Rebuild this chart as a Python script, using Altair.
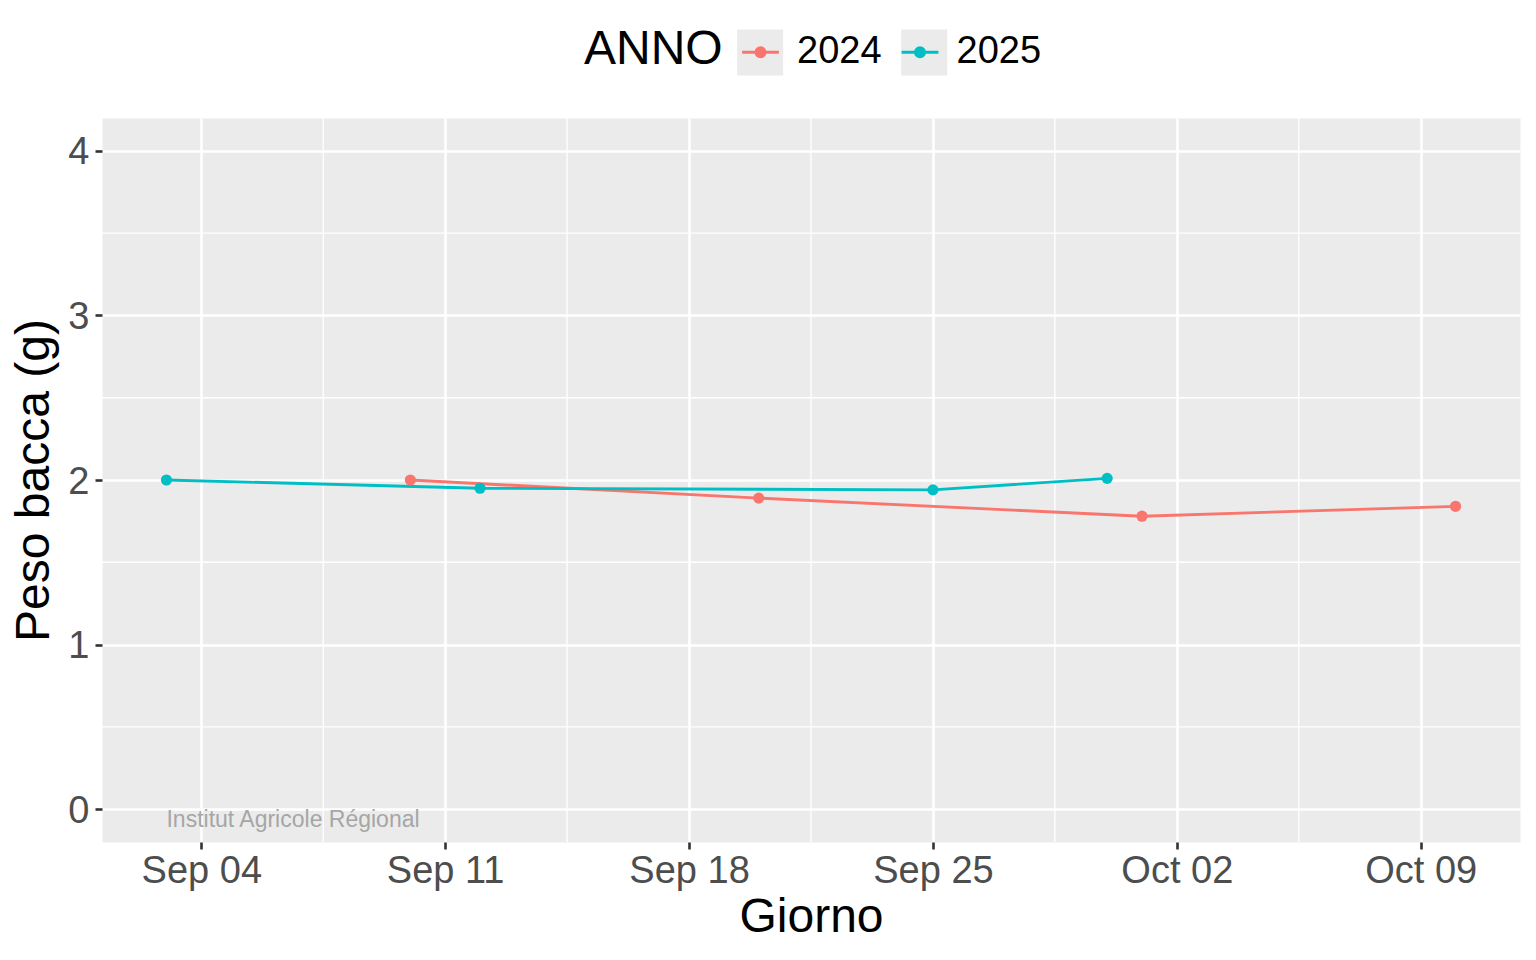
import altair as alt
import pandas as pd

# ---------------- data ----------------
anni = ["2024", "2025"]
colori = ["#F8766D", "#00BFC4"]
anno_riferimento = "2025"          # common calendar year used on the x axis

giorni_2024 = ["09-10", "09-20", "10-01", "10-10"]
peso_2024 = [2.00, 1.89, 1.78, 1.84]

giorni_2025 = ["09-03", "09-12", "09-25", "09-30"]
peso_2025 = [2.00, 1.95, 1.94, 2.01]

x_ticks = ["09-04", "09-11", "09-18", "09-25", "10-02", "10-09"]
x_minor = ["09-07T12:00", "09-14T12:00", "09-21T12:00", "09-28T12:00", "10-05T12:00"]
y_ticks = [0, 1, 2, 3, 4]
y_minor = [0.5, 1.5, 2.5, 3.5]
y_limiti = [0, 4]
watermark = "Institut Agricole Régional"

FONT = "Liberation Sans"
TITLE_SIZE = 48
LABEL_SIZE = 38


def iso(g):
    return f"{anno_riferimento}-{g}"


def ms(g):
    return int(pd.Timestamp(iso(g), tz="UTC").value // 10**6)


rows = []
for anno, giorni, pesi in [("2024", giorni_2024, peso_2024), ("2025", giorni_2025, peso_2025)]:
    for g, p in zip(giorni, pesi):
        rows.append({"date": iso(g), "peso": p, "ANNO": anno, "ANNO_bg": anno})
df = pd.DataFrame(rows)

df_mx = pd.DataFrame({"date": [iso(g) for g in x_minor]})
df_my = pd.DataFrame({"peso": y_minor})
df_wm = pd.DataFrame({"date": [iso(giorni_2025[0])], "peso": [y_limiti[0]], "testo": [watermark]})

# ggplot-style 5% expansion of the ranges
all_ms = [ms(g) for g in giorni_2024 + giorni_2025]
span = max(all_ms) - min(all_ms)
x_domain = [min(all_ms) - 0.05 * span, max(all_ms) + 0.05 * span]
y_span = y_limiti[1] - y_limiti[0]
y_domain = [y_limiti[0] - 0.05 * y_span, y_limiti[1] + 0.05 * y_span]

x_scale = alt.Scale(type="utc", domain=x_domain, nice=False)
y_scale = alt.Scale(domain=y_domain, nice=False, zero=False)

x_axis = alt.Axis(
    values=[ms(g) for g in x_ticks], format="%b %d", title="Giorno",
    labelFontSize=LABEL_SIZE, labelPadding=3, titleFontSize=TITLE_SIZE,
    titleBaseline="alphabetic", titleY=89.7,
)
y_axis = alt.Axis(
    values=y_ticks, title="Peso bacca (g)", labelFontSize=LABEL_SIZE, labelPadding=6,
    labelOffset=2, titleFontSize=TITLE_SIZE, titleBaseline="alphabetic", titleX=-54,
    titleAngle=270,
)

x_enc = alt.X("date:T", scale=x_scale, axis=x_axis)
y_enc = alt.Y("peso:Q", scale=y_scale, axis=y_axis)

# legend geometry (pixels, relative to the plot area)
LEG_X = 482
LEG_Y = -90.5
TITLE_PAD = 13
COL_PAD = 13.5
LABEL_OFF = 12
title_w = 2.889 * TITLE_SIZE          # advance width of "ANNO" in Liberation Sans
label_w = 4 * 0.5562 * LABEL_SIZE     # advance width of a 4-digit label

legend_common = dict(
    orient="none", legendY=LEG_Y, direction="horizontal", columns=2,
    labelFontSize=LABEL_SIZE, labelFont=FONT, labelOffset=LABEL_OFF,
    symbolSize=2116, symbolStrokeWidth=2.8, padding=0,
)

color_legend = alt.Legend(
    title="ANNO", legendX=LEG_X, titleOrient="left", titleAnchor="middle",
    titleBaseline="middle", titleFontSize=TITLE_SIZE, titleFont=FONT,
    titleFontWeight="normal", titlePadding=TITLE_PAD, titleColor="black",
    columnPadding=COL_PAD,
    symbolType="M-0.8,0L0.8,0M-0.2,0A0.2,0.2,0,1,1,0.2,0A0.2,0.2,0,1,1,-0.2,0Z",
    labelColor="black", zindex=1, **legend_common,
)
# grey key backgrounds drawn by a second, label-less legend placed under the first
bg_legend = alt.Legend(
    title=None, legendX=LEG_X + title_w + TITLE_PAD, labelExpr="''",
    columnPadding=COL_PAD + label_w,
    symbolType="square", symbolStrokeColor="transparent", zindex=0, **legend_common,
)

color_enc = alt.Color("ANNO:N", scale=alt.Scale(domain=anni, range=colori), legend=color_legend)

minor_x = alt.Chart(df_mx).mark_rule(color="white", strokeWidth=1.3).encode(x=x_enc)
minor_y = alt.Chart(df_my).mark_rule(color="white", strokeWidth=1.3).encode(y=y_enc)

# invisible layer that only supplies the grey key backgrounds of the legend
bg = alt.Chart(df).mark_square(size=0, opacity=1).encode(
    x=x_enc, y=y_enc,
    fill=alt.Fill("ANNO_bg:N", scale=alt.Scale(range=["#EBEBEB", "#EBEBEB"]), legend=bg_legend),
)
lines = alt.Chart(df).mark_line(strokeWidth=2.9).encode(x=x_enc, y=y_enc, color=color_enc)
points = alt.Chart(df).mark_point(filled=True, size=125, opacity=1).encode(x=x_enc, y=y_enc, color=color_enc)
wm = alt.Chart(df_wm).mark_text(
    align="left", baseline="alphabetic", dy=17.7, fontSize=23, color="#A6A6A6", font=FONT
).encode(x=x_enc, y=y_enc, text="testo:N")

chart = (
    alt.layer(minor_x, minor_y, bg, lines, points, wm)
    .properties(
        width=1418, height=724,
        autosize=alt.AutoSizeParams(type="none"),
        padding={"left": 94, "top": 110, "right": 6, "bottom": 100},
    )
    .configure_view(fill="#EBEBEB", stroke="transparent")
    .configure_axis(
        grid=True, gridColor="white", gridWidth=2.6, domain=False,
        tickColor="#333333", tickWidth=2.6, tickSize=7,
        labelColor="#4D4D4D", labelFont=FONT, titleFont=FONT,
        titleFontWeight="normal", titleColor="black",
    )
)

chart.save("out.html", embed_options={"renderer": "svg", "actions": False})
